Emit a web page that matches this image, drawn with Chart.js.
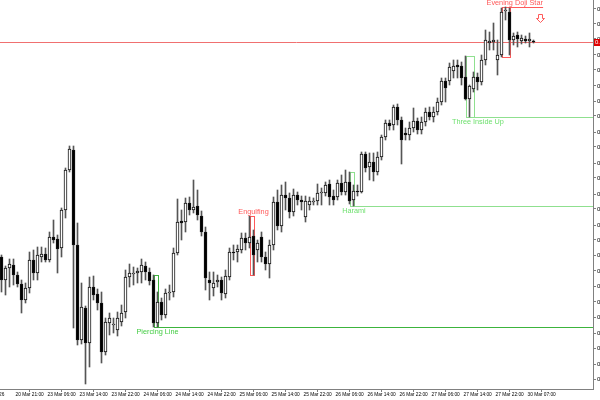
<!DOCTYPE html>
<html><head><meta charset="utf-8">
<script src="https://cdn.jsdelivr.net/npm/chart.js@4.4.1/dist/chart.umd.min.js"></script>
<style>html,body{margin:0;padding:0;background:#fff;overflow:hidden}#wrap{width:600px;height:400px}</style>
</head><body><div id="wrap"><canvas id="c" width="600" height="400"></canvas></div>
<script>
// ---- candle data (hourly bars, index 0 = first visible bar) ----
const opens = [0.6532,0.6509,0.6521,0.6524,0.6514,0.6505,0.6489,0.6501,0.6529,0.6516,0.6532,0.6535,0.6529,0.6552,0.6550,0.6541,0.6579,0.6619,0.6639,0.6544,0.6449,0.6481,0.6446,0.6502,0.6495,0.6486,0.6437,0.6466,0.6464,0.6459,0.6467,0.6477,0.6512,0.6515,0.6516,0.6517,0.6523,0.6517,0.6509,0.6466,0.6487,0.6474,0.6496,0.6497,0.6536,0.6568,0.6567,0.6586,0.6579,0.6583,0.6573,0.6557,0.6509,0.6501,0.6507,0.6509,0.6495,0.6512,0.6537,0.6537,0.6539,0.6551,0.6546,0.6553,0.6539,0.6552,0.6532,0.6525,0.6544,0.6587,0.6563,0.6594,0.6591,0.6577,0.6594,0.6589,0.6572,0.6584,0.6587,0.6588,0.6596,0.6596,0.6605,0.6593,0.6592,0.6606,0.6597,0.6607,0.6589,0.6598,0.6597,0.6635,0.6622,0.6627,0.6617,0.6632,0.6652,0.6666,0.6664,0.6682,0.6669,0.6656,0.6654,0.6661,0.6668,0.6659,0.6667,0.6677,0.6672,0.6677,0.6687,0.6708,0.6708,0.6718,0.6724,0.6723,0.6712,0.6690,0.6700,0.6712,0.6707,0.6729,0.6746,0.6747,0.6729,0.6734,0.6778,0.6777,0.6749,0.6754,0.6748,0.6750,0.6748,0.6748];
const highs = [0.6534,0.6523,0.6530,0.6530,0.6517,0.6509,0.6506,0.6537,0.6539,0.6542,0.6542,0.6541,0.6557,0.6569,0.6554,0.6581,0.6621,0.6643,0.6643,0.6566,0.6506,0.6483,0.6512,0.6513,0.6500,0.6497,0.6471,0.6476,0.6471,0.6477,0.6484,0.6519,0.6525,0.6522,0.6521,0.6530,0.6527,0.6521,0.6514,0.6497,0.6491,0.6500,0.6504,0.6541,0.6590,0.6579,0.6591,0.6592,0.6609,0.6599,0.6578,0.6562,0.6517,0.6517,0.6514,0.6512,0.6519,0.6541,0.6544,0.6544,0.6556,0.6556,0.6573,0.6559,0.6549,0.6557,0.6537,0.6549,0.6592,0.6599,0.6604,0.6607,0.6596,0.6600,0.6597,0.6593,0.6593,0.6592,0.6591,0.6605,0.6601,0.6607,0.6609,0.6599,0.6609,0.6614,0.6619,0.6617,0.6604,0.6604,0.6637,0.6637,0.6636,0.6636,0.6637,0.6654,0.6669,0.6669,0.6684,0.6685,0.6672,0.6661,0.6667,0.6681,0.6671,0.6672,0.6681,0.6682,0.6682,0.6691,0.6711,0.6711,0.6726,0.6729,0.6729,0.6727,0.6733,0.6704,0.6717,0.6716,0.6734,0.6759,0.6757,0.6766,0.6749,0.6781,0.6782,0.6781,0.6756,0.6757,0.6754,0.6753,0.6756,0.6749];
const lows = [0.6497,0.6494,0.6502,0.6504,0.6502,0.6476,0.6486,0.6496,0.6509,0.6509,0.6527,0.6527,0.6527,0.6546,0.6516,0.6532,0.6571,0.6617,0.6461,0.6444,0.6445,0.6405,0.6422,0.6489,0.6479,0.6426,0.6434,0.6454,0.6456,0.6453,0.6463,0.6471,0.6502,0.6504,0.6506,0.6506,0.6509,0.6504,0.6462,0.6462,0.6469,0.6471,0.6489,0.6492,0.6534,0.6549,0.6557,0.6574,0.6576,0.6569,0.6553,0.6499,0.6489,0.6493,0.6502,0.6489,0.6491,0.6509,0.6529,0.6527,0.6536,0.6539,0.6541,0.6514,0.6527,0.6527,0.6519,0.6511,0.6539,0.6559,0.6557,0.6579,0.6571,0.6573,0.6584,0.6579,0.6567,0.6579,0.6584,0.6584,0.6584,0.6593,0.6584,0.6584,0.6589,0.6594,0.6594,0.6585,0.6583,0.6593,0.6596,0.6617,0.6609,0.6608,0.6614,0.6629,0.6649,0.6659,0.6659,0.6664,0.6625,0.6649,0.6649,0.6657,0.6655,0.6655,0.6663,0.6669,0.6667,0.6674,0.6684,0.6687,0.6704,0.6711,0.6711,0.6704,0.6689,0.6672,0.6697,0.6699,0.6704,0.6724,0.6739,0.6739,0.6714,0.6732,0.6769,0.6734,0.6744,0.6742,0.6745,0.6746,0.6742,0.6746];
const closes = [0.6509,0.6521,0.6525,0.6514,0.6505,0.6489,0.6501,0.6529,0.6516,0.6534,0.6535,0.6529,0.6552,0.6549,0.6540,0.6579,0.6619,0.6640,0.6544,0.6449,0.6482,0.6446,0.6502,0.6494,0.6486,0.6437,0.6467,0.6471,0.6465,0.6471,0.6476,0.6512,0.6516,0.6516,0.6518,0.6524,0.6517,0.6508,0.6466,0.6487,0.6474,0.6496,0.6497,0.6536,0.6567,0.6566,0.6586,0.6579,0.6582,0.6574,0.6557,0.6511,0.6506,0.6506,0.6509,0.6496,0.6513,0.6537,0.6536,0.6540,0.6551,0.6546,0.6552,0.6534,0.6546,0.6532,0.6525,0.6544,0.6587,0.6563,0.6594,0.6591,0.6577,0.6594,0.6589,0.6587,0.6588,0.6588,0.6588,0.6596,0.6597,0.6604,0.6592,0.6589,0.6606,0.6597,0.6607,0.6588,0.6598,0.6597,0.6635,0.6621,0.6627,0.6617,0.6632,0.6652,0.6666,0.6663,0.6682,0.6669,0.6649,0.6654,0.6661,0.6668,0.6659,0.6667,0.6677,0.6672,0.6677,0.6687,0.6708,0.6701,0.6722,0.6723,0.6722,0.6711,0.6690,0.6703,0.6712,0.6707,0.6729,0.6749,0.6748,0.6749,0.6734,0.6777,0.6779,0.6749,0.6753,0.6750,0.6751,0.6748,0.6750,0.6747];
const bidPrice = 0.6747;

// ---- axis ticks ----
const xTickIndex = [-6.5,3,11,19,27,35,43,51,59,67,75,83,91,99,107,115,123,131];
const xTickLabels = ["20 Mar 2026","20 Mar 21:00","23 Mar 06:00","23 Mar 14:00","23 Mar 22:00","24 Mar 06:00","24 Mar 14:00","24 Mar 22:00","25 Mar 06:00","25 Mar 14:00","25 Mar 22:00","26 Mar 06:00","26 Mar 14:00","26 Mar 22:00","27 Mar 06:00","27 Mar 14:00","27 Mar 22:00","30 Mar 07:00"];
const yTickValues = [0.6410,0.6425,0.6441,0.6456,0.6472,0.6487,0.6503,0.6518,0.6534,0.6549,0.6564,0.6580,0.6595,0.6611,0.6626,0.6642,0.6657,0.6673,0.6688,0.6703,0.6719,0.6734,0.6750,0.6765,0.6780];

// ---- detected candlestick patterns ----
const patternNames = ["Piercing Line","Engulfing","Harami","Three Inside Up","Evening Doji Star"];
const patternFirstBar = [38,62,87,116,125];
const patternLastBar = [39,63,88,118,127];
const patternHigh = [0.6514,0.6573,0.6617,0.6733,0.6782];
const patternLow = [0.6462,0.6514,0.6583,0.6672,0.6732];
const patternBullish = [true,false,true,true,false];
const patternLabelBar = [39,63,88.1,119.1,128.3];
const patternLineEndBar = [null,null,null,null,135.4];
const arrowBar = 134.7;
const arrowPrice = 0.6775;

const RED = '#ff5a5a', GREEN = '#6fe06f', DKGREEN = '#3cb43c';
const patternColors = ['#44cc44', RED, GREEN, GREEN, RED];
const lineColors = [DKGREEN, RED, '#8fe08f', '#8fe08f', RED];

const X_MIN = -0.375, X_MAX = 147.875;

const bodyData = opens.map((o, i) => ({x: i, y: [o, closes[i]]}));
const wickData = lows.map((l, i) => ({x: i, y: [l, highs[i]]}));
const bodyFill = opens.map((o, i) => closes[i] >= o ? '#ffffff' : '#000000');

const overlay = {
  id: 'overlay',
  beforeDatasetsDraw(chart) {
    const {ctx, chartArea: a, scales: {x, y}} = chart;
    ctx.save();
    const by = Math.round(y.getPixelForValue(bidPrice)) + 0.5;
    ctx.strokeStyle = '#f07070'; ctx.lineWidth = 1;
    ctx.beginPath(); ctx.moveTo(a.left, by); ctx.lineTo(a.right, by); ctx.stroke();
    patternNames.forEach((n, k) => {
      const x1 = Math.round(x.getPixelForValue(patternFirstBar[k])) + 0.5;
      const x2 = Math.round(x.getPixelForValue(patternLastBar[k])) + 0.5;
      const yt = Math.round(y.getPixelForValue(patternHigh[k])) + 0.5;
      const yb = Math.round(y.getPixelForValue(patternLow[k])) + 0.5;
      ctx.strokeStyle = lineColors[k];
      ctx.strokeRect(x1, yt, x2 - x1, yb - yt);
      ctx.beginPath();
      if (patternBullish[k]) { ctx.moveTo(x1, yb); ctx.lineTo(a.right, yb); }
      else if (patternLineEndBar[k] !== null) { ctx.moveTo(x1, yt); ctx.lineTo(x.getPixelForValue(patternLineEndBar[k]), yt); }
      ctx.stroke();
    });
    ctx.restore();
  },
  afterDatasetsDraw(chart) {
    const {ctx, chartArea: a, scales: {x, y}} = chart;
    ctx.save();
    ctx.font = '7.3px "Liberation Sans", Arial, sans-serif';
    ctx.textAlign = 'center';
    patternNames.forEach((n, k) => {
      const cx = x.getPixelForValue(patternLabelBar[k]);
      ctx.fillStyle = patternColors[k];
      if (patternBullish[k]) {
        ctx.textBaseline = 'top';
        ctx.fillText(n, cx, y.getPixelForValue(patternLow[k]) + 1.5);
      } else {
        ctx.textBaseline = 'bottom';
        ctx.fillText(n, cx, y.getPixelForValue(patternHigh[k]) - 0.5);
      }
    });
    const ax = Math.round(x.getPixelForValue(arrowBar)) + 0.5;
    const ay = Math.round(y.getPixelForValue(arrowPrice)) + 0.5;
    ctx.strokeStyle = RED; ctx.lineWidth = 1;
    ctx.beginPath();
    ctx.moveTo(ax - 2, ay); ctx.lineTo(ax + 2, ay); ctx.lineTo(ax + 2, ay + 4);
    ctx.lineTo(ax + 4, ay + 4); ctx.lineTo(ax, ay + 8); ctx.lineTo(ax - 4, ay + 4);
    ctx.lineTo(ax - 2, ay + 4); ctx.closePath(); ctx.stroke();
    ctx.font = '4.8px "Liberation Sans", Arial, sans-serif';
    ctx.fillStyle = '#000'; ctx.textAlign = 'left'; ctx.textBaseline = 'top';
    xTickIndex.forEach((v, k) => {
      if (v < X_MIN) ctx.fillText(xTickLabels[k], x.getPixelForValue(v) + 2, a.bottom + 3);
    });
    const by = y.getPixelForValue(bidPrice);
    ctx.fillStyle = '#e00000';
    ctx.fillRect(a.right + 1, Math.round(by) - 3, 10, 7);
    ctx.fillStyle = '#fff'; ctx.font = '6px "Liberation Sans", Arial, sans-serif';
    ctx.textBaseline = 'middle';
    ctx.fillText(bidPrice.toFixed(4), a.right + 2, Math.round(by) + 0.5);
    ctx.restore();
  }
};

new Chart(document.getElementById('c'), {
  type: 'bar',
  data: {
    datasets: [
      {label: 'body', data: bodyData, backgroundColor: bodyFill, borderColor: '#111', borderWidth: 1,
       borderSkipped: false, barThickness: 3, grouped: false, order: 0},
      {label: 'wick', data: wickData, backgroundColor: '#555', borderWidth: 0,
       barThickness: 1, grouped: false, order: 1}
    ]
  },
  options: {
    responsive: false, animation: false, devicePixelRatio: 1,
    layout: {padding: 0},
    plugins: {legend: {display: false}, tooltip: {enabled: false}},
    scales: {
      x: {
        type: 'linear', position: 'bottom', min: X_MIN, max: X_MAX, offset: false,
        grid: {drawOnChartArea: false, drawTicks: true, tickLength: 3, color: '#808080'},
        border: {display: true, color: '#808080'},
        ticks: {autoSkip: false, maxRotation: 0, minRotation: 0, align: 'start', labelOffset: 2, padding: 0,
          color: '#000', font: {size: 4.8, family: '"Liberation Sans", Arial, sans-serif'},
          callback: (v) => { const k = xTickIndex.indexOf(v); return k >= 0 ? xTickLabels[k] : ''; }},
        afterBuildTicks: (s) => { s.ticks = xTickIndex.filter(v => v >= X_MIN && v <= X_MAX).map(v => ({value: v})); },
        afterFit: (s) => { s.height = 11; s.paddingLeft = 0; s.paddingRight = 0; }
      },
      y: {
        type: 'linear', position: 'right', min: 0.6400, max: 0.6789,
        grid: {drawOnChartArea: false, drawTicks: true, tickLength: 3, color: '#808080'},
        border: {display: true, color: '#808080'},
        ticks: {padding: 1, color: '#000', font: {size: 6, family: '"Liberation Sans", Arial, sans-serif'},
          callback: (v) => v.toFixed(4)},
        afterBuildTicks: (s) => { s.ticks = yTickValues.map(v => ({value: v})); },
        afterFit: (s) => { s.width = 7; s.paddingTop = 0; s.paddingBottom = 0; }
      }
    }
  },
  plugins: [overlay]
});
</script>
</body></html>
